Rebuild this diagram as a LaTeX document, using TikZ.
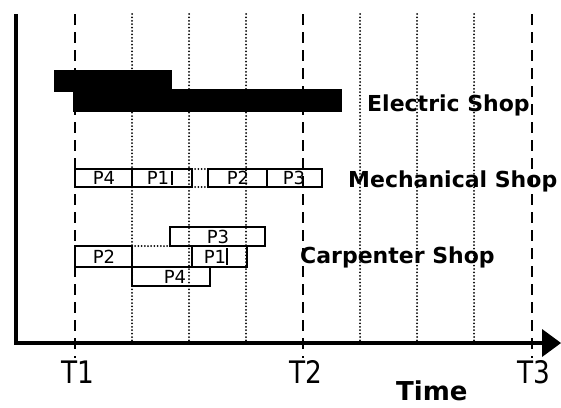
\documentclass[tikz,border=0pt]{standalone}
\usepackage{fontspec}
\setmainfont{DejaVu Sans}
\begin{document}
\begin{tikzpicture}[x=1pt,y=-1pt,
  gridline/.style={line width=2pt,dash pattern=on 0pt off 3.4pt,line cap=round},
  tline/.style={line width=2.8pt,dash pattern=on 11pt off 7pt},
  axisline/.style={line width=3.5pt},
  job/.style={draw,line width=2.2pt,inner sep=0pt},
  plabel/.style={inner sep=0pt,font=\fontsize{18}{18}\selectfont},
  gapline/.style={line width=2pt,dash pattern=on 0pt off 3.2pt,line cap=round},
  shop/.style={anchor=base west,inner sep=0pt,font=\fontsize{22}{24}\selectfont\bfseries},
  tlabel/.style={anchor=base,inner sep=0pt,font=\fontsize{31}{32}\selectfont}]
\useasboundingbox (0,0) rectangle (561,407);
% grid
\foreach \x in {132,189,246,360,417,474}{
  \draw[gridline] (\x,14) -- (\x,343);}
\foreach \x in {75,303,532}{
  \draw[tline] (\x,14) -- (\x,358);}
% axes
\coordinate (O) at (16,343);
\coordinate (Top) at (16,14);
\coordinate (AxEnd) at (546,343);
\draw[axisline] (Top) -- (O) -- (AxEnd);
\fill (542,329) -- (561,343) -- (542,357) -- cycle;
% electric shop
\fill (54,70) rectangle (172,92);
\fill (73,89) rectangle (342,112);
\node[shop] (es) at (367,111) {Electric Shop};
% mechanical shop
\draw[job] (75,169) rectangle (132,187);
\draw[job] (132,169) rectangle (192,187);
\draw[line width=1.6pt] (172,171) -- (172,185);
\draw[gapline] (192,169) -- (208,169);
\draw[gapline] (192,187) -- (208,187);
\draw[job] (208,169) rectangle (267,187);
\draw[job] (267,169) rectangle (322,187);
\node[plabel] (m4) at (104,178) {P4};
\node[plabel] (m1) at (158,178) {P1};
\node[plabel] (m2) at (238,178) {P2};
\node[plabel] (m3) at (294,178) {P3};
\node[shop] (ms) at (348,187) {Mechanical Shop};
% carpenter shop
\draw[job] (170,227) rectangle (265,246);
\draw[job] (75,246) rectangle (132,267);
\draw[gapline] (132,246) -- (170,246);
\draw[job] (192,246) rectangle (247,267);
\draw[line width=2.2pt] (132,267) -- (192,267);
\draw[line width=1.6pt] (227,248) -- (227,265);
\draw[job] (132,267) rectangle (210,286);
\node[plabel] (c3) at (218,236.5) {P3};
\node[plabel] (c2) at (104,256.5) {P2};
\node[plabel] (c1) at (215,256.5) {P1};
\node[plabel] (c4) at (175,276.5) {P4};
\node[shop] (cs) at (300,263) {Carpenter Shop};
% time labels
\node[tlabel] (t1) at (77.5,383) {\scalebox{0.85}[1]{T1}};
\node[tlabel] (t2) at (305.5,383) {\scalebox{0.85}[1]{T2}};
\node[tlabel] (t3) at (534,383) {\scalebox{0.85}[1]{T3}};
\node[anchor=base west,inner sep=0pt,font=\fontsize{26}{28}\selectfont\bfseries] (time) at (396,400) {Time};
\end{tikzpicture}
\end{document}
